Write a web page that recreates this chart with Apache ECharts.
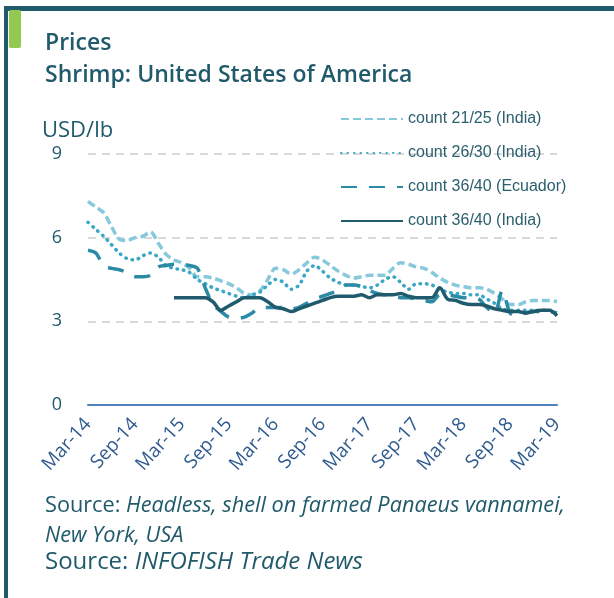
<!DOCTYPE html>
<html>
<head>
<meta charset="utf-8">
<script src="https://cdn.jsdelivr.net/npm/echarts@6/dist/echarts.min.js"></script>
<style>
html, body { margin: 0; padding: 0; background: #fff; }
#main { width: 614px; height: 598px; }
</style>
</head>
<body>
<div id="main"></div>
<script>
// monthly, Mar-14 .. Mar-19
var monthNames = ['Jan','Feb','Mar','Apr','May','Jun','Jul','Aug','Sep','Oct','Nov','Dec'];
var months = [];
for (var k = 0; k < 61; k++) {
	var m = (2 + k) % 12;
	var yr = 14 + Math.floor((2 + k) / 12);
	months.push(monthNames[m] + '-' + yr);
}

var yTicks = [0, 3, 6, 9];

var india2125 = [7.3, 7.1, 6.9, 6.4, 5.95, 5.9, 6.0, 6.05, 6.2, 5.8,
	5.4, 5.2, 5.1, 4.9, 4.6, 4.6, 4.55, 4.45, 4.35, 4.2,
	4.0, 3.95, 4.1, 4.5, 4.9, 4.85, 4.7, 4.85, 5.1, 5.3,
	5.2, 5.0, 4.8, 4.65, 4.55, 4.6, 4.65, 4.65, 4.65, 4.9,
	5.1, 5.05, 4.95, 4.9, 4.75, 4.55, 4.4, 4.3, 4.25, 4.2,
	4.2, 4.15, 4.0, 3.8, 3.6, 3.6, 3.7, 3.75, 3.75, 3.75, 3.7];

var india2630 = [6.55, 6.3, 6.05, 5.75, 5.45, 5.25, 5.2, 5.35, 5.45, 5.3,
	5.0, 4.9, 4.85, 4.75, 4.5, 4.35, 4.2, 4.1, 4.0, 3.9,
	3.85, 3.95, 4.05, 4.3, 4.5, 4.4, 4.15, 4.3, 4.8, 5.0,
	4.8, 4.55, 4.4, 4.3, 4.3, 4.25, 4.2, 4.3, 4.5, 4.6,
	4.4, 4.15, 4.35, 4.35, 4.3, 4.15, 4.05, 4.0, 4.0, 3.95,
	3.95, 3.8, 3.65, 3.45, 3.4, 3.4, 3.4, 3.4, 3.4, 3.4, 3.4];

var ecuador3640 = [5.55, 5.45, 5.0, 4.9, 4.85, 4.75, 4.6, 4.6, 4.65, 4.95,
	5.0, 5.05, 5.05, 5.0, 4.9, 4.2, 3.6, 3.35, 3.15, 3.1,
	3.15, 3.3, 3.5, 3.5, 3.5, 3.5, 3.45, 3.5, 3.65, 3.8,
	3.9, 4.0, 4.1, 4.3, 4.3, 4.25, 4.1, 4.0, 3.95, 3.9,
	3.85, 3.85, 3.8, 3.75, 3.7, 3.95, 3.95, 3.9, 3.85, 3.85,
	3.8, 3.5, 3.3, 4.1, 3.3, 3.2, 3.3, 3.35, 3.35, 3.35, 3.3];

var india3640 = [null, null, null, null, null, null, null, null, null, null,
	null, 3.85, 3.85, 3.85, 3.85, 3.85, 3.7, 3.4, 3.55, 3.7,
	3.85, 3.85, 3.85, 3.7, 3.5, 3.45, 3.35, 3.45, 3.55, 3.65,
	3.75, 3.85, 3.9, 3.9, 3.9, 3.95, 3.85, 3.95, 3.95, 3.95,
	4.0, 3.9, 3.85, 3.85, 3.85, 4.2, 3.8, 3.75, 3.65, 3.6,
	3.6, 3.55, 3.45, 3.4, 3.35, 3.35, 3.3, 3.35, 3.4, 3.4, 3.2];

var dark = '#215a6b';

function lineSeries(name, data, color, dash, cap) {
	return {
		name: name,
		type: 'line',
		data: data,
		symbol: 'none',
		smooth: 0.3,
		connectNulls: false,
		lineStyle: {
			color: color,
			width: 3.5,
			type: dash,
			cap: cap || 'butt'
		},
		itemStyle: { color: color }
	};
}

var chart = echarts.init(document.getElementById('main'));

var option = {
	animation: false,
	grid: {
		left: 88,
		right: 57,
		top: 154,
		bottom: 193
	},
	legend: {
		orient: 'vertical',
		left: 335,
		top: 106,
		itemWidth: 62,
		itemHeight: 14,
		itemGap: 18,
		selectedMode: false,
		itemStyle: { opacity: 0 },
		textStyle: {
			color: '#2b5f6e',
			fontSize: 16,
			fontFamily: 'Liberation Sans, Arial, sans-serif'
		},
		data: ['count 21/25 (India)', 'count 26/30 (India)', 'count 36/40 (Ecuador)', 'count 36/40 (India)']
	},
	xAxis: {
		type: 'category',
		boundaryGap: false,
		data: months,
		axisLine: {
			lineStyle: { color: '#4f81bd', width: 2 }
		},
		axisTick: { show: false },
		axisLabel: {
			interval: 5,
			rotate: 48,
			margin: 16,
			color: '#2f5b8f',
			fontSize: 19,
			fontFamily: 'Open Sans, sans-serif'
		},
		splitLine: { show: false }
	},
	yAxis: {
		type: 'value',
		min: yTicks[0],
		max: yTicks[yTicks.length - 1],
		interval: 3,
		axisLine: { show: false },
		axisTick: { show: false },
		axisLabel: {
			margin: 26,
			color: dark,
			fontSize: 18,
			fontFamily: 'Open Sans, sans-serif'
		},
		splitLine: {
			lineStyle: { color: '#d9d9d9', width: 2, type: [8, 6] }
		}
	},
	series: [
		lineSeries('count 21/25 (India)', india2125, '#86c9dc', [8, 4]),
		lineSeries('count 26/30 (India)', india2630, '#3ba7c6', [0.5, 6], 'round'),
		lineSeries('count 36/40 (Ecuador)', ecuador3640, '#2b8aa5', [16, 12]),
		lineSeries('count 36/40 (India)', india3640, '#1f5b6c', 'solid')
	],
	graphic: [
		{ type: 'rect', shape: { x: 4, y: 6, width: 610, height: 5 }, style: { fill: dark } },
		{ type: 'rect', shape: { x: 4, y: 6, width: 4, height: 592 }, style: { fill: dark } },
		{ type: 'rect', shape: { x: 9, y: 10, width: 12, height: 38, r: 2 }, style: { fill: '#92c950' } },
		{
			type: 'text', left: 45, top: 32,
			style: { text: 'Prices', fill: dark, font: '600 23px "Open Sans", sans-serif' }
		},
		{
			type: 'text', left: 45, top: 64,
			style: { text: 'Shrimp: United States of America', fill: dark, font: '600 23px "Open Sans", sans-serif' }
		},
		{
			type: 'text', left: 42, top: 120,
			style: { text: 'USD/lb', fill: dark, font: '22px "Open Sans", sans-serif' }
		},
		{
			type: 'text', left: 45, top: 491,
			style: {
				text: '{n|Source: }{i|Headless, shell on farmed Panaeus vannamei,}\n{i|New York, USA}',
				fill: dark,
				lineHeight: 30,
				rich: {
					n: { fill: dark, font: '21.7px "Open Sans", sans-serif', lineHeight: 30 },
					i: { fill: dark, font: 'italic 21.7px "Open Sans", sans-serif', lineHeight: 30 }
				}
			}
		},
		{
			type: 'text', left: 45, top: 550,
			style: {
				text: '{n|Source: }{i|INFOFISH Trade News}',
				fill: dark,
				rich: {
					n: { fill: dark, font: '24px "Open Sans", sans-serif' },
					i: { fill: dark, font: 'italic 24px "Open Sans", sans-serif' }
				}
			}
		}
	]
};

chart.setOption(option);
</script>
</body>
</html>
